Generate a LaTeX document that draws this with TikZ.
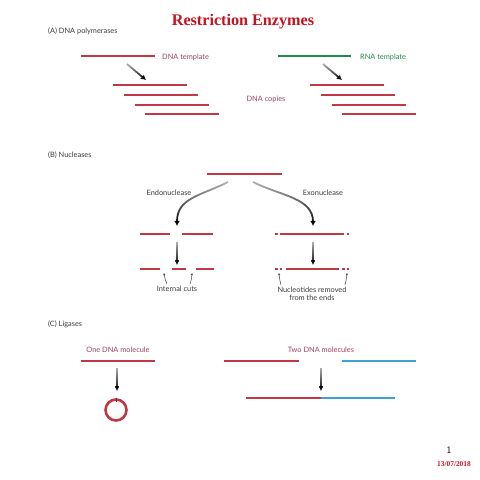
\documentclass[tikz,border=0pt]{standalone}
\usepackage{fontspec}
\setmainfont{Liberation Serif}
\newfontfamily\labelfont{Lato}
\usetikzlibrary{fadings,arrows.meta}
\definecolor{titlered}{HTML}{C8101E}
\definecolor{dnared}{HTML}{C03844}
\definecolor{rnagreen}{HTML}{1E8C4E}
\definecolor{dnablue}{HTML}{3AA2D4}
\definecolor{labelred}{HTML}{A0405E}
\definecolor{labelgray}{HTML}{3C3C3C}
\tikzfading[name=fadeup, top color=transparent!70, bottom color=transparent!0]
\begin{document}
\begin{tikzpicture}[x=0.5mm,y=-0.5mm,
    strand/.style={line width=1.4mm},
    lbl/.style={font=\labelfont\fontsize{10.5}{12}\selectfont,inner sep=0pt},
    fadearrow/.style={line width=0.9mm,black,-{Latex[length=2.5mm,width=2.9mm]},path fading=fadeup},
    pointer/.style={line width=0.25mm,labelgray,-{Stealth[length=1.2mm,width=1mm]}}]
    \useasboundingbox (0,0) rectangle (480,480);
    %% title
    \node[font=\bfseries\fontsize{23}{25}\selectfont,text=titlered] (title) at (243,22) {Restriction Enzymes};
    %% (A) DNA polymerases
    \node[lbl,text=labelgray,anchor=west] (pa) at (48,31) {(A) DNA polymerases};
    \draw[strand,dnared] (81,56) -- (155,56);
    \node[lbl,text=labelred,anchor=west] (dnalbl) at (162,57) {DNA template};
    \draw[strand,rnagreen] (278,56) -- (351,56);
    \node[lbl,text=rnagreen,anchor=west] (rnalbl) at (360,57) {RNA template};
    \foreach \x/\y in {113/85,124/95,135/105,145/114} {
        \draw[strand,dnared] (\x,\y) -- ++(74,0);
        \draw[strand,dnared] (\x+197,\y) -- ++(74,0);
    }
    \node[lbl,text=labelred] (copies) at (266,99) {DNA copies};
    \coordinate (dnafrom) at (127,64);
    \coordinate (dnato) at (146,80);
    \coordinate (rnafrom) at (323,64);
    \coordinate (rnato) at (342,80);
    \draw[fadearrow] (dnafrom) -- (dnato);
    \draw[fadearrow] (rnafrom) -- (rnato);
    %% (B) Nucleases
    \node[lbl,text=labelgray,anchor=west] (pb) at (48,155) {(B) Nucleases};
    \draw[strand,dnared] (207,174) -- (282,174);
    \node[lbl,text=labelgray] (endo) at (169,193) {Endonuclease};
    \node[lbl,text=labelgray] (exo) at (323,193) {Exonuclease};
    \coordinate (endofrom) at (228,182);
    \coordinate (endoto) at (177,226);
    \coordinate (exofrom) at (253,182);
    \coordinate (exoto) at (313,226);
    \draw[fadearrow] (endofrom) .. controls (200,196) and (177,198) .. (endoto);
    \draw[fadearrow] (exofrom) .. controls (281,196) and (313,198) .. (exoto);
    %% internal cuts
    \foreach \a/\b in {140/170,182/213} \draw[strand,dnared] (\a,234) -- (\b,234);
    \foreach \a/\b in {140/160,172/186,196/214} \draw[strand,dnared] (\a,269) -- (\b,269);
    %% ends removed
    \foreach \a/\b in {275/277.5,280/344,346.5/349} \draw[strand,dnared] (\a,234) -- (\b,234);
    \foreach \a/\b in {275/277.5,279.5/282,286/339,342/344.5,346.5/349} \draw[strand,dnared] (\a,269) -- (\b,269);
    \foreach \x in {177,313} {
        \coordinate (top\x) at (\x,242);
        \coordinate (bot\x) at (\x,265);
        \draw[fadearrow] (top\x) -- (bot\x);
    }
    \node[lbl,text=labelgray] (cuts) at (177,289) {Internal cuts};
    \node[lbl,text=labelgray,align=center] (ends) at (312,294) {Nucleotides removed\\from the ends};
    \draw[pointer] (167,284) to[bend left=8] (164,273);
    \draw[pointer] (190,284) to[bend right=8] (192,273);
    \draw[pointer] (281,285) to[bend left=5] (279,273);
    \draw[pointer] (345,285) to[bend right=5] (347,273);
    %% (C) Ligases
    \node[lbl,text=labelgray,anchor=west] (pc) at (48,324) {(C) Ligases};
    \node[lbl,text=labelred] (one) at (118,350) {One DNA molecule};
    \node[lbl,text=labelred] (two) at (321,350) {Two DNA molecules};
    \draw[strand,dnared] (81,361) -- (155,361);
    \draw[strand,dnared] (224,361) -- (299,361);
    \draw[strand,dnablue] (342,361) -- (416,361);
    \foreach \x in {117,321} {
        \coordinate (lig\x) at (\x,368);
        \coordinate (end\x) at (\x,391);
        \draw[fadearrow] (lig\x) -- (end\x);
    }
    \draw[line width=1.3mm,dnared] (116,410) circle (10.5);
    \draw[line width=0.5mm,dnared!70!black] (116,397.5) -- (116,401.5);
    \draw[strand,dnared] (246,398) -- (321,398);
    \draw[strand,dnablue] (321,398) -- (395,398);
    %% page number and date
    \node[font=\sffamily\fontsize{14}{16}\selectfont] (page) at (449,450) {1};
    \node[font=\bfseries\fontsize{10.5}{12}\selectfont,text=titlered] (date) at (454,464) {13/07/2018};
\end{tikzpicture}
\end{document}
